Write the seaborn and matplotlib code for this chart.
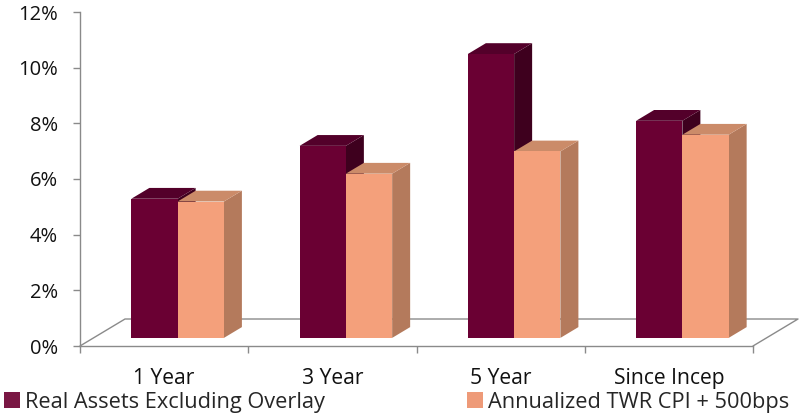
import matplotlib
matplotlib.use("Agg")
import matplotlib.pyplot as plt
from matplotlib.patches import Polygon, Patch
import pandas as pd
import seaborn as sns

# ---- data -------------------------------------------------------------
periods = ["1 Year", "3 Year", "5 Year", "Since Incep"]
series_names = ["Real Assets Excluding Overlay", "Annualized TWR CPI + 500bps"]
real_assets = [5.0, 6.9, 10.2, 7.8]
twr_cpi_500 = [4.9, 5.9, 6.7, 7.3]
y_ticks = [0, 2, 4, 6, 8, 10, 12]
y_tick_labels = [f"{t}%" for t in y_ticks]

df = pd.DataFrame({
    "period": periods * 2,
    "series": [series_names[0]] * len(periods) + [series_names[1]] * len(periods),
    "value": real_assets + twr_cpi_500,
})

# ---- styling ----------------------------------------------------------
FRONT = ["#6a0033", "#f4a07b"]
TOP = ["#53002a", "#cb8b69"]
SIDE = ["#3e001e", "#b47a5c"]
LEGEND = ["#7a1744", "#ee9a78"]
AXIS_GREY = "#8a8a8a"

sns.set_theme(style="white")
plt.rcParams["font.family"] = ["Open Sans", "DejaVu Sans"]

fig = plt.figure(figsize=(8.01, 4.13), dpi=100)
ax = fig.add_axes([80 / 801, 67 / 413, 673 / 801, 334 / 413])

sns.barplot(data=df, x="period", y="value", hue="series",
            palette=FRONT, width=0.55, saturation=1, errorbar=None,
            legend=False, ax=ax)
ax.set_xlim(-0.5, len(periods) - 0.5)
ax.set_ylim(0, 12)

# oblique projection used for the pseudo-3D floor and bar faces
DX, DY = 0.2675, 0.97          # full floor depth in data units
Z0, Z1 = 0.3, 0.7              # bars occupy the middle of the floor depth
d = Z1 - Z0

n = len(periods)
for i, p in enumerate(list(ax.patches)):
    s = i // n
    w, h = p.get_width(), p.get_height()
    x0 = p.get_x() + Z0 * DX
    y0 = Z0 * DY
    p.set_x(x0)
    p.set_y(y0)
    p.set_edgecolor("none")
    p.set_zorder(2.2 + s)
    side = Polygon([(x0 + w, y0), (x0 + w + d * DX, y0 + d * DY),
                    (x0 + w + d * DX, y0 + h + d * DY), (x0 + w, y0 + h)],
                   closed=True, facecolor=SIDE[s], edgecolor="none",
                   zorder=2.0 + s, clip_on=False)
    top = Polygon([(x0, y0 + h), (x0 + w, y0 + h),
                   (x0 + w + d * DX, y0 + h + d * DY), (x0 + d * DX, y0 + h + d * DY)],
                  closed=True, facecolor=TOP[s], edgecolor="none",
                  zorder=2.1 + s, clip_on=False)
    ax.add_patch(side)
    ax.add_patch(top)

# floor outline (front edge is the bottom spine)
x_left, x_right = -0.5, n - 0.5
ax.plot([x_left, x_left + DX, x_right + DX, x_right],
        [0, DY, DY, 0], color=AXIS_GREY, lw=1.0, clip_on=False, zorder=1)

# axes styling
for side_name in ["top", "right"]:
    ax.spines[side_name].set_visible(False)
for side_name in ["left", "bottom"]:
    ax.spines[side_name].set_color(AXIS_GREY)
    ax.spines[side_name].set_linewidth(1.0)

ax.set_yticks(y_ticks)
ax.set_yticklabels(y_tick_labels)
ax.tick_params(axis="y", left=True, length=5, width=1, color=AXIS_GREY,
               pad=11, labelsize=14.5, labelcolor="#111111")

ax.set_xticks(range(n))
ax.set_xticklabels(periods)
ax.set_xticks([k - 0.5 for k in range(n + 1)], minor=True)
ax.tick_params(axis="x", which="major", length=0, pad=16,
               labelsize=15.2, labelcolor="#111111")
ax.tick_params(axis="x", which="minor", bottom=True, length=5, width=1,
               color=AXIS_GREY)
ax.set_xlabel("")
ax.set_ylabel("")

# one legend entry per series, each anchored at its own spot along the bottom
legend_x = [0.0, 463 / 801]
for k in range(2):
    fig.legend([Patch(facecolor=LEGEND[k], edgecolor="none")],
               [series_names[k]], loc="lower left",
               bbox_to_anchor=(legend_x[k], -0.0095), frameon=False,
               fontsize=15.7, handlelength=0.7, handleheight=0.7,
               handletextpad=0.25, borderaxespad=0.0, borderpad=0.2)

fig.savefig("out.png", dpi=100, facecolor="white")
